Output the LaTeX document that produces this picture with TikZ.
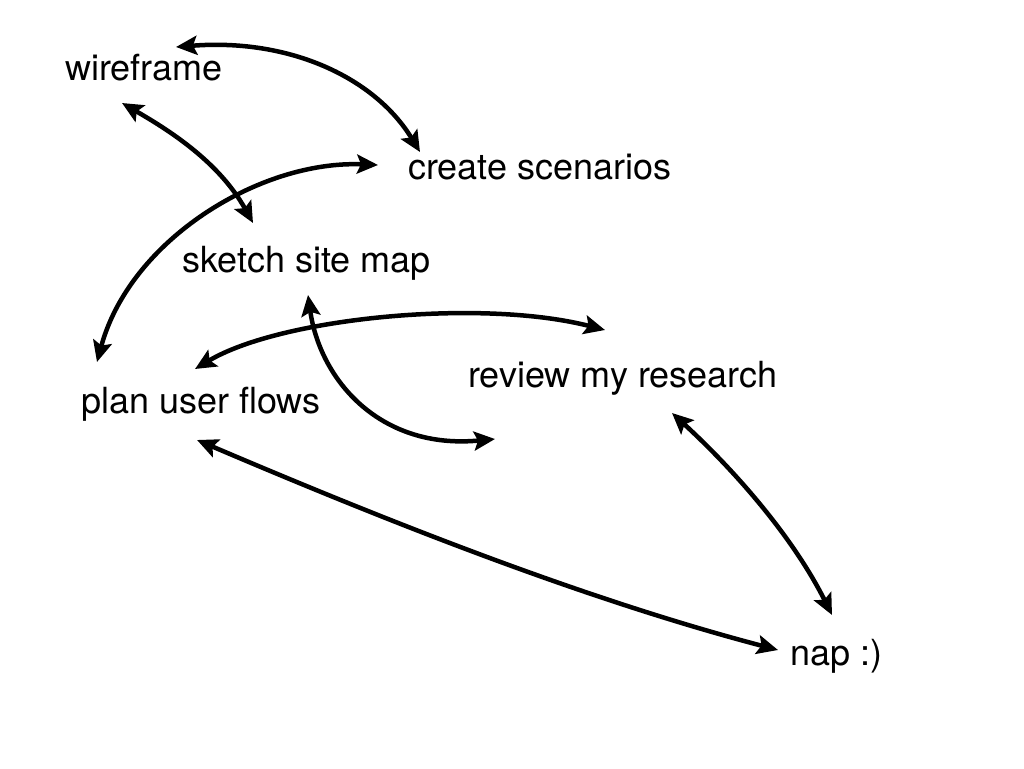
\documentclass[tikz,border=0pt]{standalone}
\usepackage{fontspec}
\setmainfont{TeX Gyre Heros}
\usetikzlibrary{arrows.meta}
\tikzset{
  lbl/.style={anchor=base west, inner sep=0pt, font=\fontsize{36}{40}\selectfont},
  link/.style={line width=4.5pt, {Stealth[length=21pt,width=19pt,inset=4pt]}-{Stealth[length=21pt,width=19pt,inset=4pt]}}
}
\begin{document}
\begin{tikzpicture}[x=1pt,y=-1pt]
\useasboundingbox (0,0) rectangle (1024,768);
\node[lbl] (wf) at (65,80) {wireframe};
\node[lbl] (cs) at (408,179) {create scenarios};
\node[lbl] (ssm) at (182,272) {sketch site map};
\node[lbl] (puf) at (81,413) {plan user flows};
\node[lbl] (rmr) at (468,387) {review my research};
\node[lbl] (nap) at (790,665) {nap :)};
\coordinate (a1s) at (176,47);  \coordinate (a1e) at (420,152);
\coordinate (a2s) at (122,103); \coordinate (a2e) at (253,223);
\coordinate (a3s) at (378,165); \coordinate (a3e) at (97,362);
\coordinate (a4s) at (195,369); \coordinate (a4e) at (605,330);
\coordinate (a5s) at (308,295); \coordinate (a5e) at (495,439);
\coordinate (a6s) at (197,440); \coordinate (a6e) at (778,650);
\coordinate (a7s) at (672,413); \coordinate (a7e) at (832,615);
\draw[link] (a1s) .. controls (290,38) and (375,78) .. (a1e);
\draw[link] (a2s) .. controls (165,128) and (218,160) .. (a2e);
\draw[link] (a3s) .. controls (260,160) and (130,240) .. (a3e);
\draw[link] (a4s) .. controls (280,318) and (480,298) .. (a4e);
\draw[link] (a5s) .. controls (320,380) and (380,450) .. (a5e);
\draw[link] (a6s) .. controls (380,518) and (580,598) .. (a6e);
\draw[link] (a7s) .. controls (732,468) and (792,535) .. (a7e);
\end{tikzpicture}
\end{document}
